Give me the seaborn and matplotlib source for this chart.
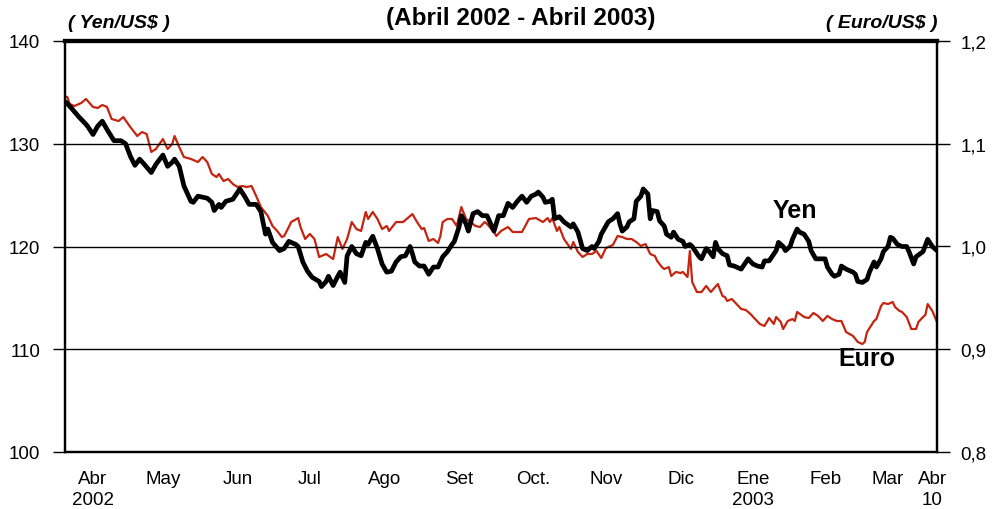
import matplotlib
matplotlib.use("Agg")
import matplotlib.pyplot as plt
import seaborn as sns
import pandas as pd

# ---- data (days since 1 April 2002) ----
yen_days = [0, 1, 3, 6, 9, 10, 12, 14, 16, 18, 21, 24, 26, 28, 30, 32, 34, 37, 39, 42, 44, 46, 47, 49,
            51, 54, 55, 57, 61, 63, 64, 66, 67, 69, 72, 75, 77, 79, 82, 84, 86, 87, 89, 92, 94, 96,
            99, 100, 102, 104, 106, 109, 110, 112, 113, 115, 117, 118, 120, 121, 123, 125, 127, 129,
            130, 132, 134, 136, 138, 140, 142, 144, 146, 148, 149, 150, 152, 154, 156, 158, 160, 162,
            164, 166, 167, 169, 170, 172, 173, 175, 177, 179, 181, 184, 186, 188, 190, 192, 194, 196,
            198, 200, 202, 203, 205, 206, 208, 209, 210, 212, 214, 217, 218, 220, 222, 224, 226, 227,
            229, 230, 233, 235, 237, 238, 239, 241, 242, 244, 245, 247, 248, 250, 251, 252, 254, 255,
            257, 258, 260, 261, 263, 265, 266, 268, 269, 272, 273, 275, 276, 278, 279, 280, 282, 284,
            285, 287, 290, 293, 295, 297, 299, 300, 302, 305, 306, 308, 309, 311, 312, 314, 315, 317,
            319, 320, 322, 324, 326, 327, 329, 330, 332, 333, 335, 338, 339, 340, 342, 344, 345, 347,
            348, 350, 351, 353, 354, 355, 357, 359, 361, 362, 364, 365, 368, 370, 372, 374]
yen_vals = [134.1, 133.9, 133.4, 132.6, 131.9, 131.6, 130.9, 131.7, 132.2, 131.4, 130.3, 130.3, 130.0,
            128.8, 127.9, 128.5, 128.0, 127.2, 128.0, 128.9, 127.8, 128.2, 128.5, 127.8, 125.9, 124.4,
            124.3, 124.9, 124.7, 124.3, 123.5, 124.1, 123.8, 124.4, 124.6, 125.6, 124.9, 124.1, 124.1,
            123.4, 121.2, 121.7, 120.4, 119.6, 119.8, 120.5, 120.2, 120.0, 118.5, 117.6, 117.0, 116.6,
            116.1, 116.6, 117.1, 116.2, 117.1, 117.5, 116.5, 119.1, 120.0, 119.3, 119.1, 120.4, 120.2,
            121.0, 119.8, 118.3, 117.5, 117.6, 118.5, 119.0, 119.1, 120.0, 119.3, 118.5, 118.1, 118.1,
            117.3, 118.0, 118.0, 119.0, 119.5, 120.2, 120.5, 121.9, 123.0, 122.2, 121.5, 123.2, 123.4,
            123.0, 123.0, 121.5, 123.0, 123.0, 124.2, 123.8, 124.4, 124.9, 124.3, 124.9, 125.1, 125.3,
            124.8, 124.3, 124.4, 124.6, 122.7, 122.9, 122.4, 121.9, 122.2, 121.4, 119.8, 119.6, 120.0,
            119.8, 120.5, 121.2, 122.4, 122.7, 123.2, 122.2, 121.5, 121.9, 122.4, 122.7, 124.4, 124.9,
            125.6, 125.1, 122.7, 123.5, 123.4, 122.5, 122.0, 121.2, 120.9, 121.4, 120.7, 120.5, 120.0,
            120.2, 120.0, 119.0, 118.8, 119.8, 119.6, 119.0, 120.4, 119.8, 119.3, 119.1, 118.2, 118.1,
            117.8, 118.8, 118.3, 118.1, 118.0, 118.6, 118.6, 119.6, 120.4, 120.0, 119.6, 120.0, 120.7,
            121.7, 121.4, 121.2, 120.5, 119.6, 118.8, 118.8, 118.8, 118.0, 117.3, 117.1, 117.3, 118.1,
            117.8, 117.5, 117.3, 116.6, 116.5, 116.8, 117.5, 118.5, 118.0, 118.8, 119.5, 120.0, 120.9,
            120.8, 120.2, 120.0, 120.0, 119.5, 118.3, 119.0, 119.5, 120.7, 120.0, 119.6]

euro_days = [0, 1, 2, 4, 7, 9, 12, 14, 16, 18, 20, 23, 25, 28, 31, 33, 35, 37, 39, 42, 44, 46, 47, 49,
             51, 54, 57, 59, 61, 63, 65, 66, 68, 70, 72, 74, 76, 78, 80, 82, 84, 87, 89, 91, 93, 94,
             96, 97, 100, 101, 103, 105, 107, 109, 112, 115, 117, 119, 121, 123, 125, 127, 129, 130,
             132, 134, 136, 138, 139, 142, 145, 147, 149, 151, 153, 154, 156, 158, 160, 161, 162, 164,
             166, 168, 170, 172, 174, 176, 178, 180, 181, 184, 185, 187, 190, 192, 196, 199, 202, 205,
             207, 208, 209, 211, 212, 214, 217, 218, 220, 222, 224, 226, 228, 230, 232, 235, 237, 239,
             241, 243, 245, 247, 249, 251, 253, 254, 256, 257, 259, 260, 262, 264, 265, 267, 268, 269,
             271, 273, 275, 277, 280, 282, 283, 284, 286, 288, 290, 292, 294, 296, 298, 300, 302, 304,
             305, 307, 308, 310, 312, 313, 314, 317, 319, 321, 323, 325, 327, 329, 331, 333, 335, 338,
             340, 342, 343, 344, 347, 348, 350, 351, 353, 355, 356, 358, 359, 361, 363, 365, 366, 368,
             369, 370, 372, 374]
euro_vals = [1.146, 1.1455, 1.1387, 1.1367, 1.1397, 1.1436, 1.1358, 1.1348, 1.1377, 1.1358, 1.1241,
             1.1221, 1.1260, 1.1163, 1.1075, 1.1114, 1.1095, 1.0920, 1.0949, 1.1046, 1.0949, 1.0998,
             1.1075, 1.0968, 1.0871, 1.0852, 1.0822, 1.0871, 1.0822, 1.0706, 1.0676, 1.0706, 1.0637,
             1.0657, 1.0608, 1.0579, 1.0589, 1.0579, 1.0589, 1.0491, 1.0384, 1.0297, 1.0200, 1.0151,
             1.0092, 1.0102, 1.0190, 1.0238, 1.0277, 1.0190, 1.0073, 1.0122, 1.0073, 0.9898, 0.9927,
             0.9878, 1.0092, 0.9976, 1.0073, 1.0238, 1.0170, 1.0151, 1.0336, 1.0268, 1.0336, 1.0268,
             1.0170, 1.0200, 1.0151, 1.0238, 1.0238, 1.0277, 1.0316, 1.0238, 1.0170, 1.0180, 1.0054,
             1.0073, 1.0034, 1.0102, 1.0238, 1.0268, 1.0268, 1.0200, 1.0384, 1.0268, 1.0238, 1.0200,
             1.0190, 1.0238, 1.0219, 1.0141, 1.0102, 1.0151, 1.0190, 1.0141, 1.0141, 1.0268, 1.0277,
             1.0238, 1.0277, 1.0238, 1.0277, 1.0151, 1.0190, 1.0073, 0.9976, 1.0044, 0.9946, 0.9898,
             0.9927, 0.9927, 0.9956, 0.9888, 0.9985, 1.0015, 1.0102, 1.0092, 1.0073, 1.0073, 1.0044,
             1.0005, 1.0024, 0.9927, 0.9908, 0.9859, 0.9800, 0.9781, 0.9800, 0.9713, 0.9752, 0.9742,
             0.9752, 0.9703, 0.9956, 0.9655, 0.9557, 0.9557, 0.9616, 0.9557, 0.9635, 0.9518, 0.9509,
             0.9470, 0.9489, 0.9440, 0.9392, 0.9382, 0.9343, 0.9294, 0.9246, 0.9226, 0.9304, 0.9246,
             0.9314, 0.9265, 0.9197, 0.9275, 0.9294, 0.9275, 0.9363, 0.9314, 0.9304, 0.9353, 0.9324,
             0.9275, 0.9324, 0.9294, 0.9275, 0.9275, 0.9168, 0.9129, 0.9071, 0.9051, 0.9071, 0.9168,
             0.9275, 0.9294, 0.9421, 0.9450, 0.9440, 0.9460, 0.9411, 0.9372, 0.9363, 0.9314, 0.9197,
             0.9197, 0.9265, 0.9314, 0.9333, 0.9440, 0.9372, 0.9265]

month_labels = ["Abr\n2002", "May", "Jun", "Jul", "Ago", "Set", "Oct.", "Nov", "Dic",
                "Ene\n2003", "Feb", "Mar", "Abr\n10"]
month_ticks = [12, 42, 74, 105, 137, 169, 201, 232, 264, 295, 326, 353, 372]
yen_ticks = [100, 110, 120, 130, 140]
euro_ticks = [0.8, 0.9, 1.0, 1.1, 1.2]

# ---- plotting ----
sns.set_style("white")
plt.rcParams["font.family"] = ["Liberation Sans", "DejaVu Sans"]
plt.rcParams["text.color"] = "black"
plt.rcParams["xtick.color"] = "black"
plt.rcParams["ytick.color"] = "black"
plt.rcParams["axes.labelcolor"] = "black"

yen_df = pd.DataFrame({"day": yen_days, "val": yen_vals})
euro_df = pd.DataFrame({"day": euro_days, "val": euro_vals})

fig = plt.figure(figsize=(9.93, 5.10), dpi=100)
ax = fig.add_axes([65 / 993, 1 - 453 / 510, 872 / 993, 411 / 510])
ax2 = ax.twinx()

sns.lineplot(data=euro_df, x="day", y="val", ax=ax2, color="#C42410", linewidth=1.6)
sns.lineplot(data=yen_df, x="day", y="val", ax=ax, color="black", linewidth=3.4)
ax.set_zorder(ax2.get_zorder() + 1)
ax.patch.set_visible(False)

ax.set_xlim(0, 374)
ax.set_ylim(100, 140)
ax2.set_ylim(0.8, 1.2)
ax.set_xlabel("")
ax.set_ylabel("")
ax2.set_ylabel("")

ax.set_yticks(yen_ticks)
ax.set_yticklabels([str(t) for t in yen_ticks], fontsize=13.5, color="black")
ax2.set_yticks(euro_ticks)
ax2.set_yticklabels([f"{t:.1f}".replace(".", ",") for t in euro_ticks], fontsize=13.5, color="black")
ax.set_xticks(month_ticks)
ax.set_xticklabels(month_labels, fontsize=13.5, color="black", linespacing=1.3)
ax.tick_params(axis="x", length=0, pad=13)
ax.tick_params(axis="y", length=9, width=1, color="black", pad=9, direction="out")
ax2.tick_params(axis="y", length=9, width=1, color="black", pad=8, direction="out")

for t in [110, 120, 130]:
    ax.axhline(t, color="black", linewidth=1.0, zorder=0)

for a in (ax, ax2):
    for s in a.spines.values():
        s.set_color("black")
        s.set_linewidth(1.6)
    a.spines["top"].set_linewidth(3)

fig.text(521 / 993, 1 - 18 / 510, "(Abril 2002 - Abril 2003)", ha="center", va="center",
         fontsize=17.5, fontweight="bold")
fig.text(68 / 993, 1 - 23 / 510, "( Yen/US$ )", ha="left", va="center",
         fontsize=14, fontweight="bold", style="italic")
fig.text(937 / 993, 1 - 23 / 510, "( Euro/US$ )", ha="right", va="center",
         fontsize=14, fontweight="bold", style="italic")
ax.text(303.5, 123.6, "Yen", ha="left", va="center", fontsize=18, fontweight="bold")
ax.text(331.5, 109.1, "Euro", ha="left", va="center", fontsize=18, fontweight="bold")

fig.savefig("out.png", dpi=100)
